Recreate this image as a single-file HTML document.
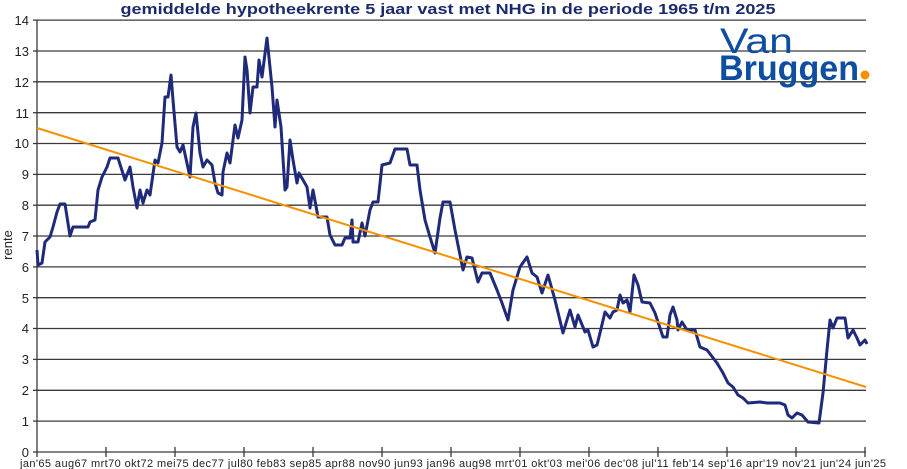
<!DOCTYPE html>
<html><head><meta charset="utf-8"><style>
body{margin:0;background:#fff;width:907px;height:469px;overflow:hidden}
svg{display:block;font-family:"Liberation Sans",sans-serif}
</style></head><body>
<svg width="907" height="469" viewBox="0 0 907 469">
<text x="448" y="14" text-anchor="middle" font-size="15" font-weight="bold" fill="#1a2a6c" font-family="Liberation Sans Narrow, Liberation Sans, sans-serif" textLength="655" lengthAdjust="spacingAndGlyphs">gemiddelde hypotheekrente 5 jaar vast met NHG in de periode 1965 t/m 2025</text>
<g stroke="#3a3a3a" stroke-width="1.3">
<line x1="37" x2="866" y1="20.1" y2="20.1"/><line x1="37" x2="866" y1="51" y2="51"/><line x1="37" x2="866" y1="81.8" y2="81.8"/><line x1="37" x2="866" y1="112.7" y2="112.7"/><line x1="37" x2="866" y1="143.5" y2="143.5"/><line x1="37" x2="866" y1="174.4" y2="174.4"/><line x1="37" x2="866" y1="205.2" y2="205.2"/><line x1="37" x2="866" y1="236" y2="236"/><line x1="37" x2="866" y1="266.9" y2="266.9"/><line x1="37" x2="866" y1="297.7" y2="297.7"/><line x1="37" x2="866" y1="328.5" y2="328.5"/><line x1="37" x2="866" y1="359.4" y2="359.4"/><line x1="37" x2="866" y1="390.3" y2="390.3"/><line x1="37" x2="866" y1="421.1" y2="421.1"/>
<line x1="37" x2="866" y1="452" y2="452"/><line x1="37" x2="37" y1="20" y2="452"/>
<line x1="33" x2="37" y1="20.1" y2="20.1"/><line x1="33" x2="37" y1="51" y2="51"/><line x1="33" x2="37" y1="81.8" y2="81.8"/><line x1="33" x2="37" y1="112.7" y2="112.7"/><line x1="33" x2="37" y1="143.5" y2="143.5"/><line x1="33" x2="37" y1="174.4" y2="174.4"/><line x1="33" x2="37" y1="205.2" y2="205.2"/><line x1="33" x2="37" y1="236" y2="236"/><line x1="33" x2="37" y1="266.9" y2="266.9"/><line x1="33" x2="37" y1="297.7" y2="297.7"/><line x1="33" x2="37" y1="328.5" y2="328.5"/><line x1="33" x2="37" y1="359.4" y2="359.4"/><line x1="33" x2="37" y1="390.3" y2="390.3"/><line x1="33" x2="37" y1="421.1" y2="421.1"/><line x1="33" x2="37" y1="452" y2="452"/>
<line x1="37" x2="37" y1="452" y2="457"/><line x1="106" x2="106" y1="447" y2="457"/><line x1="175" x2="175" y1="447" y2="457"/><line x1="244" x2="244" y1="447" y2="457"/><line x1="313" x2="313" y1="447" y2="457"/><line x1="382" x2="382" y1="447" y2="457"/><line x1="451" x2="451" y1="447" y2="457"/><line x1="520" x2="520" y1="447" y2="457"/><line x1="589" x2="589" y1="447" y2="457"/><line x1="658" x2="658" y1="447" y2="457"/><line x1="727" x2="727" y1="447" y2="457"/><line x1="796" x2="796" y1="447" y2="457"/><line x1="865" x2="865" y1="447" y2="457"/>
</g>
<g font-size="13" fill="#222" text-anchor="end">
<text x="29" y="25">14</text><text x="29" y="56">13</text><text x="29" y="87">12</text><text x="29" y="118">11</text><text x="29" y="148">10</text><text x="29" y="179">9</text><text x="29" y="210">8</text><text x="29" y="241">7</text><text x="29" y="272">6</text><text x="29" y="303">5</text><text x="29" y="333">4</text><text x="29" y="364">3</text><text x="29" y="395">2</text><text x="29" y="426">1</text><text x="29" y="457">0</text>
</g>
<text transform="translate(12,245) rotate(-90)" font-size="13" fill="#222" text-anchor="middle">rente</text>
<g font-size="11" fill="#222" font-family="Liberation Sans Narrow, Liberation Sans, sans-serif">
<text x="20" y="467" textLength="866" lengthAdjust="spacing">jan'65 aug67 mrt70 okt72 mei75 dec77 jul80 feb83 sep85 apr88 nov90 jun93 jan96 aug98 mrt'01 okt'03 mei'06 dec'08 jul'11 feb'14 sep'16 apr'19 nov'21 jun'24 jun'25</text>
</g>
<polyline fill="none" stroke="#1f2a7a" stroke-width="3" stroke-linejoin="round" points="37,250 38,265 42,263 45,242 50,237 53,227 57,212 60,204 65,204 70,236 73,227 88,227 90,222 95,220 98,190 102,177 107,167 110,158 118,158 125,180 130,167 133,187 137,208 140,190 143,203 147,190 150,195 155,160 158,163 162,143 165,97 168,97 171,75 173,100 177,147 180,152 183,145 190,177 193,127 196,113 200,153 203,167 207,160 212,165 215,183 218,193 222,195 223,172 227,153 230,163 235,125 238,138 242,120 245,57 247,70 250,113 253,87 257,87 259,60 262,77 267,38 272,87 275,127 277,100 281,127 285,190 287,187 290,140 293,160 297,183 299,173 307,187 310,208 313,190 318,217 327,217 330,235 335,245 342,245 345,238 350,238 352,220 353,242 358,242 362,223 365,236 370,210 373,202 378,202 382,165 390,163 395,149 407,149 410,165 417,165 420,190 425,220 430,237 435,253 440,218 443,202 450,202 455,230 463,270 467,257 472,258 478,282 482,273 490,273 497,290 502,303 508,320 513,290 520,267 527,257 532,273 537,277 542,293 548,275 555,300 563,333 570,310 575,327 578,315 585,332 588,330 593,347 597,345 600,333 605,312 610,318 613,312 617,310 620,295 623,303 627,300 630,312 634,275 638,285 642,302 650,303 655,313 658,322 663,337 667,337 670,315 673,307 677,320 678,330 682,322 687,330 695,330 700,347 707,350 717,363 723,373 728,383 733,387 738,395 743,398 748,403 760,402 767,403 780,403 785,405 788,415 792,418 797,413 802,415 808,422 819,423 823,393 827,350 830,320 833,328 837,318 845,318 848,338 853,330 857,338 860,345 865,340 867,344"/>
<line x1="37" y1="128" x2="866" y2="387" stroke="#f39200" stroke-width="2"/>
<text x="720" y="53" font-size="35" fill="#0d4ea0" textLength="73" lengthAdjust="spacingAndGlyphs">Van</text>
<text x="719" y="80" font-size="35" font-weight="bold" fill="#0d4ea0" textLength="140" lengthAdjust="spacingAndGlyphs">Bruggen</text>
<circle cx="865" cy="75" r="4.5" fill="#f39200"/>
</svg>
</body></html>
